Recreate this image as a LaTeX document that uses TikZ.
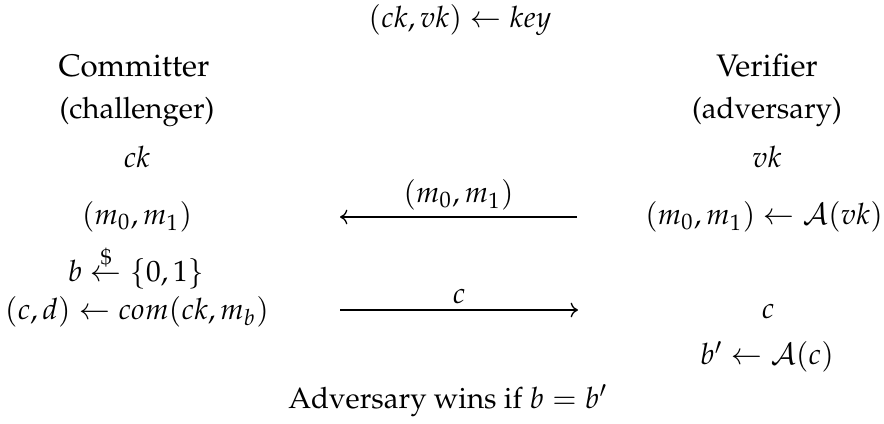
\documentclass[tikz,border=0pt]{standalone}
\usepackage{amsmath}
\usepackage[T1]{fontenc}
\usepackage{mathpazo}
\usetikzlibrary{arrows.meta}
\begin{document}
\begin{tikzpicture}[x=0.34pt,y=-0.34pt,
  txt/.style={inner sep=0pt,anchor=center},
  head/.style={inner sep=0pt,anchor=center,font=\fontsize{10.6}{13}\selectfont},
  msg/.style={-{Computer Modern Rightarrow[length=2.5pt,width=5pt]},line width=0.45pt}]
\useasboundingbox (0,0) rectangle (884,423);
\node[txt] (key) at (460,20) {$(ck,vk)\leftarrow key$};
\node[head] (com) at (134,66) {Committer};
\node[head] (ver) at (767,66) {Verifier};
\node[txt] (chal) at (137,112) {(challenger)};
\node[txt] (adv) at (767,112) {(adversary)};
\node[txt] (ck) at (137,157) {$ck$};
\node[txt] (vk) at (767,157) {$vk$};
\node[txt] (mm) at (137,217) {$(m_0,m_1)$};
\node[txt] (mmA) at (764,217) {$(m_0,m_1)\leftarrow \mathcal{A}(vk)$};
\node[txt] (b) at (136,267) {$b \overset{\$}{\leftarrow} \{0,1\}$};
\node[txt] (cd) at (137,312) {$(c,d)\leftarrow com(ck,m_b)$};
\node[txt] (c) at (768,312) {$c$};
\node[txt] (bp) at (767,357) {$b'\leftarrow \mathcal{A}(c)$};
\node[txt] (win) at (448,401) {Adversary wins if $b=b'$};
\coordinate (a1r) at (577,217);
\coordinate (a1l) at (340,217);
\coordinate (a2l) at (340,310);
\coordinate (a2r) at (578,310);
\draw[msg] (a1r) -- node[above=2pt,inner sep=0pt] (l1) {$(m_0,m_1)$} (a1l);
\draw[msg] (a2l) -- node[above=2pt,inner sep=0pt] (l2) {$c$} (a2r);
\end{tikzpicture}
\end{document}
